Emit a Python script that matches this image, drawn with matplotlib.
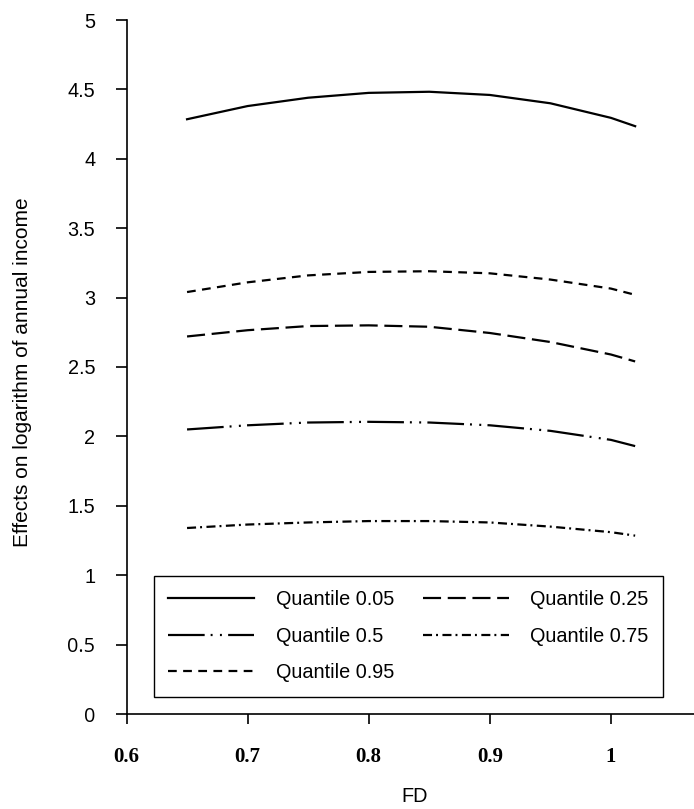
import matplotlib
matplotlib.use("Agg")
import matplotlib.pyplot as plt

# ---- data ----
fd = [0.65, 0.70, 0.75, 0.80, 0.85, 0.90, 0.95, 1.00, 1.02]
q05 = [4.285, 4.38, 4.44, 4.475, 4.483, 4.46, 4.40, 4.295, 4.235]
q25 = [2.72, 2.765, 2.795, 2.80, 2.79, 2.745, 2.68, 2.59, 2.54]
q50 = [2.05, 2.08, 2.10, 2.105, 2.10, 2.08, 2.04, 1.975, 1.93]
q75 = [1.34, 1.365, 1.38, 1.39, 1.39, 1.38, 1.35, 1.31, 1.285]
q95 = [3.04, 3.11, 3.16, 3.185, 3.19, 3.175, 3.13, 3.065, 3.02]

series_labels = ["Quantile 0.05", "Quantile 0.25", "Quantile 0.5", "Quantile 0.75", "Quantile 0.95"]
xtick_vals = [0.6, 0.7, 0.8, 0.9, 1.0]
xtick_labels = ["0.6", "0.7", "0.8", "0.9", "1"]
ytick_vals = [0, 0.5, 1, 1.5, 2, 2.5, 3, 3.5, 4, 4.5, 5]
ytick_labels = ["0", "0.5", "1", "1.5", "2", "2.5", "3", "3.5", "4", "4.5", "5"]

plt.rcParams["lines.scale_dashes"] = False
plt.rcParams["font.family"] = ["Liberation Sans", "DejaVu Sans"]

W, H = 694, 809
fig = plt.figure(figsize=(W / 100, H / 100), dpi=100)
left_px, right_px, top_px, bot_px = 126.5, 694, 20, 714
ax = fig.add_axes([left_px / W, 1 - bot_px / H, (right_px - left_px) / W, (bot_px - top_px) / H])

lw = 1.6
styles = {
    "Quantile 0.05": "-",
    "Quantile 0.25": (0, (13, 4.8)),
    "Quantile 0.5": (0, (26.4, 4.3, 1.4, 5.3, 1.4, 4.5)),
    "Quantile 0.75": (0, (6.5, 2.9, 1.4, 3.2)),
    "Quantile 0.95": (0, (6.3, 4.6)),
}
data = {
    "Quantile 0.05": q05,
    "Quantile 0.25": q25,
    "Quantile 0.5": q50,
    "Quantile 0.75": q75,
    "Quantile 0.95": q95,
}
handles = {}
for lab in series_labels:
    (h,) = ax.plot(fd, data[lab], color="black", lw=lw, linestyle=styles[lab], label=lab)
    handles[lab] = h

ax.set_xlim(0.6, 0.6 + (right_px - 127) / 1210)
ax.set_ylim(0, 5)

for s in ["top", "right"]:
    ax.spines[s].set_visible(False)
for s in ["left", "bottom"]:
    ax.spines[s].set_linewidth(1.2)
    ax.spines[s].set_color("black")

ax.set_xticks(xtick_vals)
ax.set_xticklabels(xtick_labels, fontfamily="Liberation Serif", fontweight="bold", fontsize=15)
ax.set_yticks(ytick_vals)
ax.set_yticklabels(ytick_labels, fontsize=14.3)
for t in ax.get_yticklabels():
    if t.get_text() in ("0", "0.5"):
        t.set_fontfamily("Open Sans")
ax.tick_params(axis="x", direction="out", length=7.5, width=1.2, pad=16.5)
ax.tick_params(axis="y", direction="out", length=8, width=1.2, pad=14.5)

# legend (column-major order to reproduce row layout)
order = ["Quantile 0.05", "Quantile 0.5", "Quantile 0.95", "Quantile 0.25", "Quantile 0.75"]
ax_w = right_px - left_px
ax_h = bot_px - top_px
lx0 = (154 - left_px) / ax_w
lx1 = (663 - left_px) / ax_w
ly1 = (bot_px - 576) / ax_h
ly0 = (bot_px - 696) / ax_h
leg = ax.legend([handles[k] for k in order], order, ncol=2, loc="upper left",
                bbox_to_anchor=(lx0, ly0, lx1 - lx0, ly1 - ly0), mode="expand",
                fontsize=14.3, frameon=True, fancybox=False, framealpha=1,
                edgecolor="black", handlelength=4.3, handletextpad=1.1,
                borderpad=0.72, labelspacing=0.88, borderaxespad=0)
leg.get_frame().set_linewidth(1.0)

fig.text(23 / W, 1 - 372 / H, "Effects on logarithm of annual income", rotation=90,
         ha="center", va="center", fontsize=15)
fig.text(415 / W, 1 - 797 / H, "FD", ha="center", va="center", fontsize=14.3)

fig.savefig("out.png", dpi=100)
